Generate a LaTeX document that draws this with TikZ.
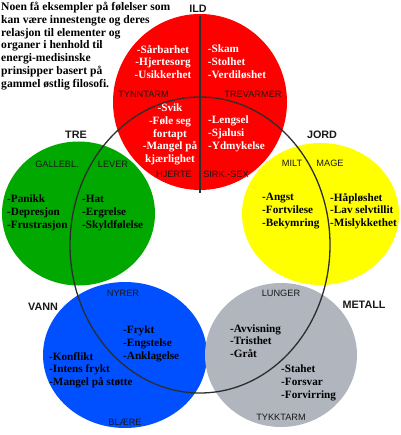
\documentclass[tikz,border=0pt]{standalone}
\usepackage{fontspec}
\setmainfont{Liberation Serif}
\setsansfont{Liberation Sans}
\definecolor{ildred}{RGB}{255,0,0}
\definecolor{trecol}{RGB}{0,168,0}
\definecolor{jordcol}{RGB}{255,255,0}
\definecolor{vanncol}{RGB}{0,80,255}
\definecolor{metcol}{RGB}{176,181,190}
\definecolor{linecol}{RGB}{45,45,45}
\definecolor{labcol}{RGB}{25,25,25}
\begin{document}
\begin{tikzpicture}[x=1pt,y=-1pt,
  emo/.style={font=\bfseries\fontsize{11.2}{12.7}\selectfont, inner sep=0pt, align=left, anchor=west},
  emoc/.style={emo, align=center, anchor=center},
  hdr/.style={font=\bfseries\fontsize{11.6}{12.8}\selectfont, inner sep=0pt, align=left, anchor=west},
  org/.style={font=\sffamily\fontsize{9.2}{11}\selectfont, inner sep=0pt, text=labcol},
  elem/.style={font=\sffamily\bfseries\fontsize{10.8}{12}\selectfont, inner sep=0pt, text=labcol},
  wh/.style={text=white},
  bigline/.style={draw=linecol, line width=1.3pt}]
\useasboundingbox (0,0) rectangle (400,435);
% element circles
\fill[ildred] (200,102) ellipse [x radius=87pt, y radius=88pt];
\fill[trecol] (78.5,213.5) ellipse [x radius=76.5pt, y radius=72pt];
\fill[jordcol] (320.5,214) ellipse [x radius=78.5pt, y radius=71pt];
\fill[vanncol] (125,355) ellipse [x radius=82pt, y radius=73pt];
\fill[metcol] (281,355) ellipse [x radius=76pt, y radius=72pt];
% dividing lines
\draw[bigline] (200,245) ellipse [x radius=130pt, y radius=148pt];
\coordinate (lt) at (200,16);
\coordinate (lb) at (200,193);
\draw[bigline] (lt) -- (lb);
% header
\node[hdr] (header) at (1,46) {Noen få eksempler på følelser som\\kan være innestengte og deres\\relasjon til elementer og\\organer i henhold til\\energi-medisinske\\prinsipper basert på\\gammel østlig filosofi.};
% ILD
\node[elem] (ild) at (198,8.5) {ILD};
\node[emoc, wh] (r1) at (163,62) {-Sårbarhet\\-Hjertesorg\\-Usikkerhet};
\node[emo, wh] (r2) at (207.7,62) {-Skam\\-Stolhet\\-Verdiløshet};
\node[org] (tynn) at (143.5,94) {TYNNTARM};
\node[org] (trev) at (253,94) {TREVARMER};
\node[emoc, wh] (r3) at (170,134.5) {-Svik\\-Føle seg\\fortapt\\-Mangel på\\kjærlighet};
\node[emo, wh] (r4) at (208,134) {-Lengsel\\-Sjalusi\\-Ydmykelse};
\node[org] (hjerte) at (174,174) {HJERTE};
\node[org] (sirk) at (226,174) {SIRK.-SEX};
% TRE
\node[elem] (tre) at (76,135) {TRE};
\node[org] (galle) at (57,164) {GALLEBL.};
\node[org] (lever) at (113,164) {LEVER};
\node[emo] (g1) at (7,213) {-Panikk\\-Depresjon\\-Frustrasjon};
\node[emo] (g2) at (82,213) {-Hat\\-Ergrelse\\-Skyldfølelse};
% JORD
\node[elem] (jord) at (322,135) {JORD};
\node[org] (milt) at (292,163) {MILT};
\node[org] (mage) at (330,163) {MAGE};
\node[emo] (y1) at (262,211) {-Angst\\-Fortvilese\\-Bekymring};
\node[emo] (y2) at (330,211) {-Håpløshet\\-Lav selvtillit\\-Mislykkethet};
% VANN
\node[elem] (vann) at (43,307) {VANN};
\node[org] (nyrer) at (123,293) {NYRER};
\node[emo] (b1) at (49,370) {-Konflikt\\-Intens frykt\\-Mangel på støtte};
\node[emo] (b2) at (123,344) {-Frykt\\-Engstelse\\-Anklagelse};
\node[org] (blaere) at (125,422) {BLÆRE};
% METALL
\node[elem] (metall) at (364,305) {METALL};
\node[org] (lunger) at (281,293) {LUNGER};
\node[emo] (m1) at (230,341) {-Avvisning\\-Tristhet\\-Gråt};
\node[emo] (m2) at (281,383) {-Stahet\\-Forsvar\\-Forvirring};
\node[org] (tykk) at (281,417) {TYKKTARM};
\end{tikzpicture}
\end{document}
